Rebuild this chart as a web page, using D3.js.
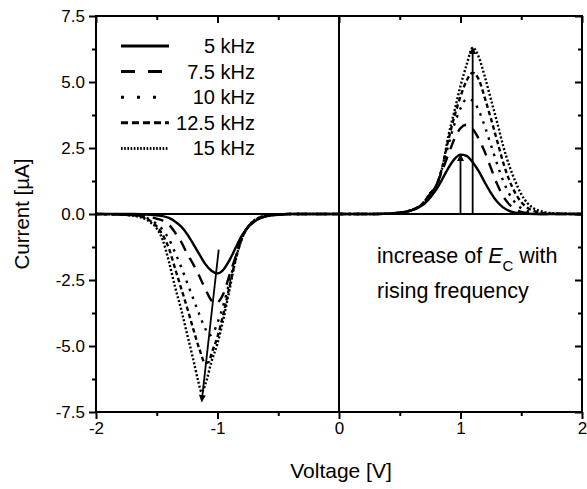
<!DOCTYPE html>
<html><head><meta charset="utf-8">
<script src="https://cdn.jsdelivr.net/npm/d3@7"></script>
<style>
body{margin:0;background:#fff}
svg{display:block}
text{font-family:"Liberation Sans",Arial,Helvetica,sans-serif;fill:#000}
</style>
</head><body>
<svg id="chart" width="587" height="489"></svg>
<script>
// ---------- data ----------
const xDomain = [-2, 2];
const yDomain = [-7.5, 7.5];
const xTicks = [-2, -1, 0, 1, 2];
const xTickLabels = ["-2", "-1", "0", "1", "2"];
const xMinorTicks = [-1.5, -0.5, 0.5, 1.5];
const yTicks = [7.5, 5, 2.5, 0, -2.5, -5, -7.5];
const yTickLabels = ["7.5", "5.0", "2.5", "0.0", "-2.5", "-5.0", "-7.5"];
const yMinorTicks = [6.25, 3.75, 1.25, -1.25, -3.75, -6.25];
const seriesNames = ["5 kHz", "7.5 kHz", "10 kHz", "12.5 kHz", "15 kHz"];
const xTitle = "Voltage [V]";
const yTitle = "Current [\u00b5A]";

// [voltage V, current µA]
const s5kHz = [[-2,0],[-1.7,0],[-1.55,-0.03],[-1.45,-0.08],[-1.4,-0.15],[-1.35,-0.28],[-1.3,-0.47],[-1.25,-0.76],[-1.2,-1.13],[-1.15,-1.52],[-1.1,-1.9],[-1.05,-2.15],[-1.0,-2.25],[-0.95,-2.1],[-0.9,-1.74],[-0.85,-1.27],[-0.8,-0.82],[-0.75,-0.5],[-0.7,-0.3],[-0.65,-0.17],[-0.6,-0.09],[-0.5,-0.03],[-0.4,0],
  [0.3,0],[0.5,0.05],[0.6,0.15],[0.65,0.24],[0.7,0.38],[0.75,0.62],[0.8,0.92],[0.85,1.32],[0.9,1.74],[0.95,2.08],[1.0,2.25],[1.05,2.2],[1.1,1.96],[1.15,1.62],[1.2,1.2],[1.25,0.8],[1.3,0.47],[1.35,0.25],[1.4,0.12],[1.45,0.05],[1.55,0.01],[1.7,0],[2,0]];
const s7_5kHz = [[-2,0],[-1.7,-0.03],[-1.6,-0.07],[-1.55,-0.12],[-1.5,-0.18],[-1.45,-0.25],[-1.4,-0.4],[-1.35,-0.7],[-1.3,-1.05],[-1.25,-1.5],[-1.2,-1.9],[-1.15,-2.35],[-1.1,-2.85],[-1.05,-3.28],[-1.02,-3.4],[-1.0,-3.36],[-0.95,-3.0],[-0.9,-2.3],[-0.85,-1.6],[-0.8,-0.9],[-0.75,-0.5],[-0.7,-0.28],[-0.65,-0.15],[-0.6,-0.08],[-0.5,-0.02],[-0.4,0],
  [0.3,0],[0.5,0.05],[0.6,0.15],[0.65,0.25],[0.7,0.43],[0.75,0.74],[0.8,1.08],[0.85,1.65],[0.9,2.25],[0.95,2.85],[1.0,3.25],[1.05,3.38],[1.1,3.22],[1.15,2.85],[1.2,2.35],[1.25,1.75],[1.3,1.15],[1.35,0.68],[1.4,0.37],[1.45,0.18],[1.5,0.08],[1.6,0.02],[1.7,0],[2,0]];
const s10kHz = [[-2,0],[-1.7,-0.04],[-1.6,-0.12],[-1.55,-0.22],[-1.5,-0.38],[-1.45,-0.6],[-1.4,-0.95],[-1.35,-1.45],[-1.3,-2.0],[-1.25,-2.6],[-1.2,-3.2],[-1.15,-3.8],[-1.1,-4.35],[-1.07,-4.6],[-1.03,-4.45],[-1.0,-4.12],[-0.95,-3.42],[-0.9,-2.55],[-0.85,-1.65],[-0.8,-0.92],[-0.75,-0.5],[-0.7,-0.27],[-0.65,-0.14],[-0.6,-0.07],[-0.5,-0.02],[-0.4,0],
  [0.3,0],[0.5,0.05],[0.6,0.15],[0.65,0.25],[0.7,0.44],[0.75,0.76],[0.8,1.08],[0.85,1.72],[0.9,2.6],[0.95,3.4],[1.0,4.0],[1.05,4.35],[1.1,4.3],[1.15,3.92],[1.2,3.32],[1.25,2.62],[1.3,1.92],[1.35,1.27],[1.4,0.77],[1.45,0.43],[1.5,0.22],[1.55,0.11],[1.6,0.05],[1.7,0.01],[2,0]];
const s12_5kHz = [[-2,0],[-1.7,-0.05],[-1.6,-0.15],[-1.55,-0.27],[-1.5,-0.47],[-1.45,-0.8],[-1.4,-1.3],[-1.35,-2.05],[-1.3,-2.8],[-1.25,-3.55],[-1.2,-4.35],[-1.15,-5.1],[-1.1,-5.65],[-1.07,-5.6],[-1.05,-5.3],[-1.0,-4.65],[-0.95,-3.75],[-0.9,-2.72],[-0.85,-1.7],[-0.8,-0.94],[-0.75,-0.5],[-0.7,-0.26],[-0.65,-0.13],[-0.6,-0.06],[-0.5,-0.02],[-0.4,0],
  [0.3,0],[0.5,0.05],[0.6,0.15],[0.65,0.25],[0.7,0.45],[0.75,0.78],[0.8,1.08],[0.85,1.78],[0.9,2.8],[0.95,3.7],[1.0,4.45],[1.05,5.05],[1.1,5.35],[1.15,5.1],[1.2,4.4],[1.25,3.62],[1.3,2.8],[1.35,1.97],[1.4,1.3],[1.45,0.8],[1.5,0.45],[1.55,0.24],[1.6,0.12],[1.65,0.06],[1.7,0.03],[1.8,0.01],[2,0]];
const s15kHz = [[-2,0],[-1.8,-0.02],[-1.7,-0.06],[-1.6,-0.18],[-1.55,-0.32],[-1.5,-0.55],[-1.45,-1.0],[-1.4,-1.8],[-1.35,-2.75],[-1.3,-3.6],[-1.25,-4.55],[-1.2,-5.5],[-1.16,-6.3],[-1.13,-6.75],[-1.1,-6.45],[-1.05,-5.6],[-1.0,-4.9],[-0.95,-3.95],[-0.9,-2.85],[-0.85,-1.72],[-0.8,-0.95],[-0.75,-0.5],[-0.7,-0.25],[-0.65,-0.12],[-0.6,-0.06],[-0.5,-0.02],[-0.4,0],
  [0.3,0],[0.5,0.05],[0.6,0.15],[0.65,0.25],[0.7,0.45],[0.75,0.78],[0.8,1.05],[0.85,1.75],[0.9,2.95],[0.95,3.9],[1.0,4.85],[1.05,5.65],[1.1,6.3],[1.15,5.95],[1.2,5.2],[1.25,4.35],[1.3,3.5],[1.35,2.6],[1.4,1.85],[1.45,1.25],[1.5,0.75],[1.55,0.42],[1.6,0.22],[1.65,0.12],[1.7,0.06],[1.8,0.02],[2,0]];
const seriesData = [s5kHz, s7_5kHz, s10kHz, s12_5kHz, s15kHz];

// arrows: [x1, y1, x2 (tip), y2 (tip)] in data units
const arrowLines = [[1.0, 0, 1.0, 2.25], [1.1, 0, 1.1, 6.3], [-0.99, -1.35, -1.13, -7.1]];
const annotationLine1 = ["increase of ", "E", "C", " with"];
const annotationLine2 = "rising frequency";

// ---------- drawing ----------
const svg = d3.select("#chart");
const L = 96, R = 582, T = 16, B = 412;
const x = d3.scaleLinear().domain(xDomain).range([L, R]);
const y = d3.scaleLinear().domain(yDomain).range([B, T]);

const plotDash = [null, "11,8", "2.5,6", "4.5,3", "2,2"];
const legendDash = [null, "14,13", "3,13", "7,4", "1.6,1.6"];

// zero lines
svg.append("line").attr("x1", L).attr("x2", R).attr("y1", y(0)).attr("y2", y(0))
  .attr("stroke", "#000").attr("stroke-width", 2);
svg.append("line").attr("x1", x(0)).attr("x2", x(0)).attr("y1", T).attr("y2", B)
  .attr("stroke", "#000").attr("stroke-width", 2);

// curves
const line = d3.line().x(d => x(d[0])).y(d => y(d[1])).curve(d3.curveMonotoneX);
seriesData.forEach((s, i) => {
  svg.append("path").datum(s).attr("d", line).attr("fill", "none")
    .attr("stroke", "#000").attr("stroke-width", 2.4)
    .attr("stroke-dasharray", plotDash[i]).attr("stroke-linecap", "butt");
});

// arrows
const defs = svg.append("defs");
defs.append("marker").attr("id", "ah").attr("viewBox", "0 0 10 10").attr("refX", 9).attr("refY", 5)
  .attr("markerWidth", 9).attr("markerHeight", 7).attr("markerUnits", "userSpaceOnUse")
  .attr("orient", "auto").append("path").attr("d", "M0,0L10,5L0,10Z").attr("fill", "#000");
arrowLines.forEach(a => {
  svg.append("line").attr("x1", x(a[0])).attr("y1", y(a[1])).attr("x2", x(a[2])).attr("y2", y(a[3]))
    .attr("stroke", "#000").attr("stroke-width", 1.8).attr("marker-end", "url(#ah)");
});

// axes
const axL = d3.axisLeft(y).tickValues(yTicks).tickFormat((d, i) => yTickLabels[i]).tickSize(7).tickPadding(4);
const axLm = d3.axisLeft(y).tickValues(yMinorTicks).tickFormat("").tickSize(4);
const axR = d3.axisRight(y).tickValues(yTicks).tickFormat("").tickSize(-7);
const axRm = d3.axisRight(y).tickValues(yMinorTicks).tickFormat("").tickSize(-4);
const axB = d3.axisBottom(x).tickValues(xTicks).tickFormat((d, i) => xTickLabels[i]).tickSize(7).tickPadding(3);
const axBm = d3.axisBottom(x).tickValues(xMinorTicks).tickFormat("").tickSize(4);
const axT = d3.axisTop(x).tickValues(xTicks).tickFormat("").tickSize(-7);
const axTm = d3.axisTop(x).tickValues(xMinorTicks).tickFormat("").tickSize(-4);

function styleAxis(g) {
  g.selectAll(".domain").remove();
  g.selectAll("line").attr("stroke", "#000").attr("stroke-width", 2);
  g.selectAll("text").attr("font-size", 17).attr("font-family", '"Liberation Sans", Arial, sans-serif').attr("fill", "#000");
}
svg.append("g").attr("transform", `translate(${L},0)`).call(axL).call(styleAxis);
svg.append("g").attr("transform", `translate(${L},0)`).call(axLm).call(styleAxis);
svg.append("g").attr("transform", `translate(${R},0)`).call(axR).call(styleAxis);
svg.append("g").attr("transform", `translate(${R},0)`).call(axRm).call(styleAxis);
svg.append("g").attr("transform", `translate(0,${B})`).call(axB).call(styleAxis);
svg.append("g").attr("transform", `translate(0,${B})`).call(axBm).call(styleAxis);
svg.append("g").attr("transform", `translate(0,${T})`).call(axT).call(styleAxis);
svg.append("g").attr("transform", `translate(0,${T})`).call(axTm).call(styleAxis);

// frame
svg.append("rect").attr("x", L).attr("y", T).attr("width", R - L).attr("height", B - T)
  .attr("fill", "none").attr("stroke", "#000").attr("stroke-width", 2);

// axis titles
svg.append("text").attr("x", (L + R) / 2 + 2).attr("y", 478).attr("text-anchor", "middle")
  .attr("font-size", 21).text(xTitle);
svg.append("text").attr("transform", `translate(29,${(T + B) / 2}) rotate(-90)`)
  .attr("text-anchor", "middle").attr("font-size", 20.5).text(yTitle);

// legend
const legY0 = 46, legDy = 25.6;
seriesNames.forEach((n, i) => {
  const yy = legY0 + i * legDy;
  svg.append("line").attr("x1", 121).attr("x2", 169).attr("y1", yy).attr("y2", yy)
    .attr("stroke", "#000").attr("stroke-width", 3).attr("stroke-dasharray", legendDash[i]);
  svg.append("text").attr("x", 255).attr("y", yy + 7).attr("text-anchor", "end")
    .attr("font-size", 20).text(n);
});

// annotation
const t1 = svg.append("text").attr("x", 377).attr("y", 263).attr("font-size", 21.5);
t1.append("tspan").text(annotationLine1[0]);
t1.append("tspan").attr("font-style", "italic").text(annotationLine1[1]);
t1.append("tspan").attr("font-size", 15).attr("dy", 8).text(annotationLine1[2]);
t1.append("tspan").attr("dy", -8).text(annotationLine1[3]);
svg.append("text").attr("x", 377).attr("y", 298).attr("font-size", 21.5).text(annotationLine2);
</script>
</body></html>
